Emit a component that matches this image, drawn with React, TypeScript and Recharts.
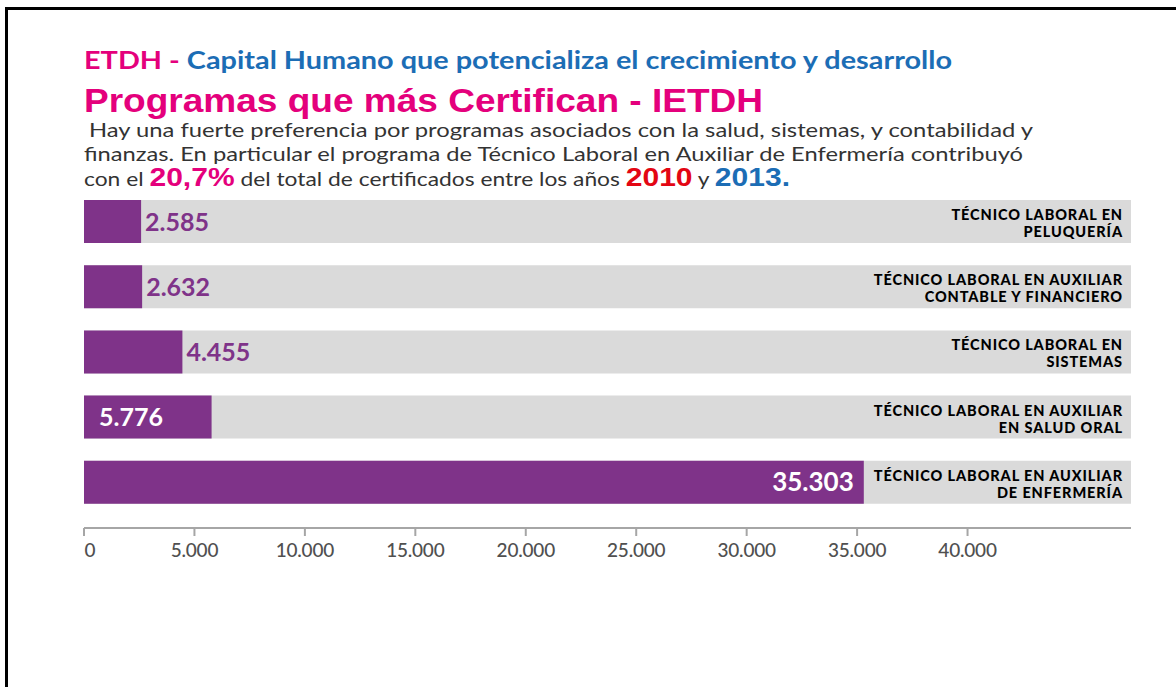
import React from 'react';
import { BarChart, Bar, XAxis, YAxis, LabelList } from 'recharts';

// ---- data ----
const programLines1 = [
  'TÉCNICO LABORAL EN',
  'TÉCNICO LABORAL EN AUXILIAR',
  'TÉCNICO LABORAL EN',
  'TÉCNICO LABORAL EN AUXILIAR',
  'TÉCNICO LABORAL EN AUXILIAR',
];
const programLines2 = [
  'PELUQUERÍA',
  'CONTABLE Y FINANCIERO',
  'SISTEMAS',
  'EN SALUD ORAL',
  'DE ENFERMERÍA',
];
const certificates = [2585, 2632, 4455, 5776, 35303];
const axisTicks = [0, 5000, 10000, 15000, 20000, 25000, 30000, 35000, 40000];
const axisMax = 47400;

const data = certificates.map((v, i) => ({
  name: programLines1[i] + ' ' + programLines2[i],
  l1: programLines1[i],
  l2: programLines2[i],
  value: v,
}));

// ---- style ----
const W = 1176;
const H = 573;
const MARGIN = { top: 189, right: 45, bottom: 5, left: 84 };
const PLOT_RIGHT = W - MARGIN.right;
const PURPLE = '#7f3389';
const MAGENTA = '#e4007c';
const BLUE = '#1c6db5';
const RED = '#e30613';
const BODY_FONT = 'Lato, "Open Sans", sans-serif';
const ARIAL = '"Liberation Sans", Arial, sans-serif';

const fmt = (v: number) => String(v).replace(/\B(?=(\d{3})+(?!\d))/g, '.');

const AxisTick = (props: any) => {
  const { x, y, payload } = props;
  const dx = payload.value === 0 ? 6 : 0;
  return (
    <text x={x + dx} y={y} dy={19} textAnchor="middle" fill="#505050" fontSize={19} fontFamily={BODY_FONT} fontWeight={500} letterSpacing={-0.2}>
      {fmt(payload.value)}
    </text>
  );
};

const ValueLabel = (props: any) => {
  const { x, y, width, height, value } = props;
  const cy = y + height / 2 + 9;
  if (value < 5000) {
    return (
      <text x={x + width + 4} y={cy} fill={PURPLE} fontSize={25} fontWeight={700} fontFamily={BODY_FONT}>
        {fmt(value)}
      </text>
    );
  }
  if (width > 300) {
    return (
      <text x={x + width - 10} y={cy} textAnchor="end" fill="#ffffff" fontSize={26} fontWeight={700} fontFamily={BODY_FONT}>
        {fmt(value)}
      </text>
    );
  }
  return (
    <text x={x + 15} y={cy} fill="#ffffff" fontSize={25} fontWeight={700} fontFamily={BODY_FONT}>
      {fmt(value)}
    </text>
  );
};

const NameLabel = (props: any) => {
  const { y, index } = props;
  const row = data[index];
  return (
    <g>
      <text x={PLOT_RIGHT - 8} y={y + 20} textAnchor="end" fill="#000" fontSize={14.5} fontWeight={900} letterSpacing={0.9} fontFamily={BODY_FONT}>
        {row.l1}
      </text>
      <text x={PLOT_RIGHT - 8} y={y + 37} textAnchor="end" fill="#000" fontSize={14.5} fontWeight={900} letterSpacing={0.9} fontFamily={BODY_FONT}>
        {row.l2}
      </text>
    </g>
  );
};

export default function App() {
  return (
    <div style={{ position: 'absolute', left: 0, top: 0, width: W, height: 687, background: '#fff', overflow: 'hidden' }}>
      <div style={{ position: 'absolute', left: 5, top: 7, width: 1200, height: 700, borderTop: '3px solid #000', borderLeft: '3px solid #000' }} />
      <svg width={W} height={200} style={{ position: 'absolute', left: 0, top: 0 }}>
        <text x={84} y={69} fontSize={25} fontWeight={700} fontFamily={BODY_FONT} textLength={868} lengthAdjust="spacingAndGlyphs">
          <tspan fill={MAGENTA}>ETDH - </tspan>
          <tspan fill={BLUE}>Capital Humano que potencializa el crecimiento y desarrollo</tspan>
        </text>
        <text x={84} y={112} fontSize={33} fontWeight={700} fill={MAGENTA} fontFamily={ARIAL} textLength={679} lengthAdjust="spacingAndGlyphs">
          Programas que más Certifican - IETDH
        </text>
        <text x={89} y={137} fontSize={19} fill="#333" fontFamily={BODY_FONT} textLength={944} lengthAdjust="spacingAndGlyphs">
          Hay una fuerte preferencia por programas asociados con la salud, sistemas, y contabilidad y
        </text>
        <text x={84} y={161} fontSize={19} fill="#333" fontFamily={BODY_FONT} textLength={939} lengthAdjust="spacingAndGlyphs">
          finanzas. En particular el programa de Técnico Laboral en Auxiliar de Enfermería contribuyó
        </text>
        <text x={84} y={186} fontSize={19} fill="#333" fontFamily={BODY_FONT} textLength={706} lengthAdjust="spacingAndGlyphs">
          <tspan>con el </tspan>
          <tspan fill={MAGENTA} fontWeight={700} fontSize={25} fontFamily={ARIAL}>20,7%</tspan>
          <tspan> del total de certificados entre los años </tspan>
          <tspan fill={RED} fontWeight={700} fontSize={25} fontFamily={ARIAL}>2010</tspan>
          <tspan> y </tspan>
          <tspan fill={BLUE} fontWeight={700} fontSize={25} fontFamily={ARIAL}>2013.</tspan>
        </text>
      </svg>
      <div style={{ position: 'absolute', left: 0, top: 0 }}>
        <BarChart layout="vertical" width={W} height={H} data={data} margin={MARGIN} barCategoryGap={22}>
          <XAxis
            type="number"
            domain={[0, axisMax]}
            ticks={axisTicks}
            tick={<AxisTick />}
            tickSize={8}
            tickMargin={2}
            axisLine={{ stroke: '#a6a6a6', strokeWidth: 2 }}
            tickLine={{ stroke: '#a6a6a6', strokeWidth: 2 }}
            height={40}
            allowDataOverflow
          />
          <YAxis type="category" dataKey="name" hide padding={{ top: 0, bottom: 13 }} />
          <Bar dataKey="value" fill={PURPLE} barSize={43} background={{ fill: '#dadada' }} isAnimationActive={false}>
            <LabelList dataKey="value" content={<ValueLabel />} />
            <LabelList dataKey="name" content={<NameLabel />} />
          </Bar>
        </BarChart>
      </div>
    </div>
  );
}
